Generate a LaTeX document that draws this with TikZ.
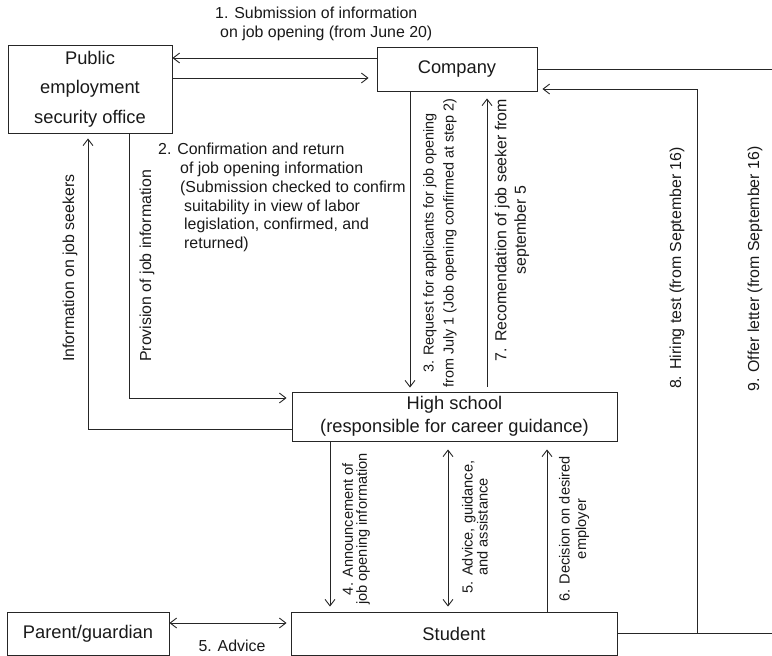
\documentclass[tikz,border=0pt]{standalone}
\usepackage{fontspec}
\setmainfont{Liberation Sans}
\usetikzlibrary{arrows.meta}
\begin{document}
\begin{tikzpicture}[x=1pt,y=-1pt,
  box/.style={draw=black!85, line width=0.9pt, inner sep=0pt, align=center,
    font=\fontsize{18.3}{22}\selectfont, text=black!90},
  conn/.style={draw=black!85, line width=0.9pt},
  arr/.style={conn, -{Straight Barb[length=6.5pt,width=10pt]}},
  darr/.style={conn, {Straight Barb[length=6.5pt,width=10pt]}-{Straight Barb[length=6.5pt,width=10pt]}},
  lbl/.style={inner sep=0pt, text=black!90, font=\fontsize{15.9}{19}\selectfont},
  slbl/.style={inner sep=0pt, text=black!90, font=\fontsize{14.6}{15}\selectfont},
]
\useasboundingbox (0,0) rectangle (772,656);

% boxes
\node[box, minimum width=164pt, minimum height=88pt, font=\fontsize{18.3}{29.7}\selectfont] (public) at (90,89) {Public\\employment\\security office};
\node[box, minimum width=160pt, minimum height=44pt] (company) at (457,69) {Company};
\node[box, minimum width=325pt, minimum height=49pt, font=\fontsize{18.3}{23}\selectfont] (hs) at (454.5,416.5) {High school\\(responsible for career guidance)};
\node[box, minimum width=326pt, minimum height=43pt] (student) at (454,633.5) {Student};
\node[box, minimum width=162pt, minimum height=43pt] (parent) at (88,633.5) {Parent/guardian};

\coordinate (rb) at (772,0);
\coordinate (v8) at (697,0);

% connectors
\draw[arr] ([yshift=11pt]company.west) -- ([yshift=11pt]company.west -| public.east);
\draw[arr, shorten >=8pt] ([yshift=-9pt]company.west -| public.east) -- ([yshift=-9pt]company.west);
\draw[arr, shorten >=4pt] ([xshift=-47pt]company.south) -- ([xshift=-47pt]company.south |- hs.north);
\draw[arr, shorten <=5pt, shorten >=7pt] ([xshift=30pt]company.south |- hs.north) -- ([xshift=30pt]company.south);
\draw[conn] (company.east) -- (company.east -| rb);
\draw[conn] (student.east) -- (student.east -| rb);
\draw[arr, shorten >=5pt] (student.east -| v8) -- ([yshift=-20pt]company.east -| v8) -- ([yshift=-20pt]company.east);
\draw[arr, shorten >=5pt] ([yshift=-12.5pt]hs.west) -| ([xshift=-2pt]public.south);
\draw[arr, shorten >=5pt] ([xshift=39pt]public.south) |- ([yshift=18.5pt]hs.west);
\draw[arr, shorten >=5pt] ([xshift=-124.5pt]hs.south) -- ([xshift=-124.5pt]hs.south |- student.north);
\draw[darr, shorten <=8pt, shorten >=5pt] ([xshift=-6.5pt]hs.south) -- ([xshift=-6.5pt]hs.south |- student.north);
\draw[arr, shorten >=8pt] ([xshift=92.5pt]hs.south |- student.north) -- ([xshift=92.5pt]hs.south);
\draw[darr, shorten >=4pt] ([yshift=10.5pt]parent.east) -- ([yshift=10.5pt]parent.east -| student.west);

% labels
\node[lbl, anchor=north west, align=left] (l1) at (215,6.5) {1. Submission of information\\\hspace*{5pt}on job opening (from June 20)};
\node[lbl, anchor=north west, align=left, font=\fontsize{15.9}{18.8}\selectfont] (l2) at (158,143) {2. Confirmation and return\\\hspace*{22pt}of job opening information\\\hspace*{22pt}(Submission checked to confirm\\\hspace*{26pt}suitability in view of labor\\\hspace*{26pt}legislation, confirmed, and\\\hspace*{26pt}returned)};
\node[lbl, rotate=90, align=center, font=\fontsize{14.4}{20}\selectfont] (l3) at (440,243) {3. Request for applicants for job opening\\from July 1 (Job opening confirmed at step 2)};
\node[lbl, rotate=90, align=center, font=\fontsize{15.9}{19.5}\selectfont] (l7) at (512,230) {7. Recomendation of job seeker from\\september 5};
\node[lbl, rotate=90] (l8) at (677,268) {8. Hiring test (from September 16)};
\node[lbl, rotate=90] (l9) at (755,269) {9. Offer letter (from September 16)};
\node[lbl, rotate=90] (linfo) at (70,268) {Information on job seekers};
\node[lbl, rotate=90] (lprov) at (147,266) {Provision of job information};
\node[slbl, rotate=90, align=center, font=\fontsize{14.6}{14}\selectfont] (l4) at (356,529) {4. Announcement of\\job opening information};
\node[slbl, rotate=90, align=center] (l5) at (475,527) {5. Advice, guidance,\\and assistance};
\node[slbl, rotate=90, align=center, font=\fontsize{14.6}{16.5}\selectfont] (l6) at (574,529) {6. Decision on desired\\employer};
\node[lbl] (l5b) at (232,646) {5. Advice};
\end{tikzpicture}
\end{document}
